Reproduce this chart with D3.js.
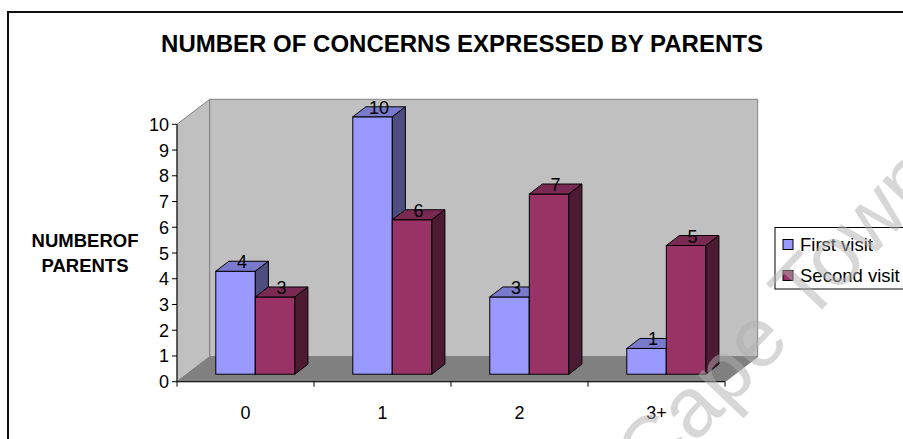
<!DOCTYPE html>
<html><head><meta charset="utf-8">
<script src="https://cdn.jsdelivr.net/npm/d3@7"></script>
<style>html,body{margin:0;padding:0;background:#fff;}svg{display:block;font-family:Arial,"Liberation Sans",sans-serif;}</style>
</head><body>
<svg id="c" width="903" height="439"></svg>
<script>
const categories = ["0", "1", "2", "3+"];
const seriesNames = ["First visit", "Second visit"];
const firstVisit = [4, 10, 3, 1];
const secondVisit = [3, 6, 7, 5];
const yTicks = [0,1,2,3,4,5,6,7,8,9,10];
const title = "NUMBER OF CONCERNS EXPRESSED BY PARENTS";
const yLabel = ["NUMBEROF", "PARENTS"];

const colors = [
  {front:"#9999ff", top:"#7a7acc", side:"#4d4d80"},
  {front:"#993366", top:"#7a2952", side:"#4d1a33"}
];
const series = [firstVisit, secondVisit];

const svg = d3.select("#c");
const X0 = 177, X1 = 725, Y0 = 381.7, Y1 = 124.3;
const DX = 32.7, DY = -25; // depth offset of the 3D box
const x = d3.scaleBand().domain(categories).range([X0, X1]).paddingInner(0.423).paddingOuter(0.2115);
const xs = d3.scaleBand().domain(seriesNames).range([0, x.bandwidth()]);
const y = d3.scaleLinear().domain([0, 10]).range([Y0, Y1]);

// outer border
svg.append("rect").attr("x",8).attr("y",12).attr("width",1000).attr("height",1000)
  .attr("fill","none").attr("stroke","#111").attr("stroke-width",2);

// title
svg.append("text").attr("x",462).attr("y",52).attr("text-anchor","middle")
  .attr("font-weight","bold").attr("font-size",24).text(title);

// y label
yLabel.forEach((t,i)=>svg.append("text").attr("x",85).attr("y",247+i*25)
  .attr("text-anchor","middle").attr("font-weight","bold").attr("font-size",18.5).text(t));

// walls
const g = svg.append("g");
g.append("path").attr("d",`M${X0},${y(10)}L${X0+DX},${y(10)+DY}L${X0+DX},${Y0+DY}L${X0},${Y0}Z`)
  .attr("fill","#c0c0c0").attr("stroke","#808080");
g.append("path").attr("d",`M${X0+DX},${y(10)+DY}L${X1+DX},${y(10)+DY}L${X1+DX},${Y0+DY}L${X0+DX},${Y0+DY}Z`)
  .attr("fill","#c0c0c0").attr("stroke","#808080");
g.append("path").attr("d",`M${X0},${Y0}L${X1},${Y0}L${X1+DX},${Y0+DY}L${X0+DX},${Y0+DY}Z`)
  .attr("fill","#808080").attr("stroke","#808080");

// y axis
g.append("line").attr("x1",X0).attr("x2",X0).attr("y1",y(10)).attr("y2",Y0).attr("stroke","#000");
yTicks.forEach(v=>{
  g.append("line").attr("x1",X0-5).attr("x2",X0).attr("y1",y(v)).attr("y2",y(v)).attr("stroke","#000");
  g.append("text").attr("x",X0-8).attr("y",y(v)+6.5).attr("text-anchor","end").attr("font-size",18).text(v);
});
// x axis
g.append("line").attr("x1",X0).attr("x2",X1).attr("y1",Y0).attr("y2",Y0).attr("stroke","#000");
const step = x.step();
d3.range(categories.length+1).forEach(i=>{
  const tx = X0 + i*step;
  g.append("line").attr("x1",tx).attr("x2",tx).attr("y1",Y0).attr("y2",Y0+5).attr("stroke","#000");
});
categories.forEach(c=>{
  g.append("text").attr("x",x(c)+x.bandwidth()/2).attr("y",Y0+37).attr("text-anchor","middle").attr("font-size",18).text(c);
});

// bars
const fOff = 0.3, fDep = 0.4;
const ox = DX*fOff, oy = DY*fOff, bdx = DX*fDep, bdy = DY*fDep;
categories.forEach((c,ci)=>{
  series.forEach((s,si)=>{
    const v = s[ci];
    const bx = x(c)+xs(seriesNames[si]) + ox, bw = xs.bandwidth();
    const by0 = y(0)+oy, by1 = y(v)+oy;
    const col = colors[si];
    g.append("rect").attr("x",bx).attr("y",by1).attr("width",bw).attr("height",by0-by1)
      .attr("fill",col.front).attr("stroke","#000");
    g.append("path").attr("d",`M${bx},${by1}L${bx+bdx},${by1+bdy}L${bx+bw+bdx},${by1+bdy}L${bx+bw},${by1}Z`)
      .attr("fill",col.top).attr("stroke","#000").attr("stroke-linejoin","round");
    g.append("path").attr("d",`M${bx+bw},${by1}L${bx+bw+bdx},${by1+bdy}L${bx+bw+bdx},${by0+bdy}L${bx+bw},${by0}Z`)
      .attr("fill",col.side).attr("stroke","#000").attr("stroke-linejoin","round");
  });
});
// value labels
categories.forEach((c,ci)=>{
  series.forEach((s,si)=>{
    const v = s[ci];
    const bx = x(c)+xs(seriesNames[si]) + ox, bw = xs.bandwidth();
    g.append("text").attr("x",bx+bw/2+bdx/2).attr("y",y(v)+oy-3).attr("text-anchor","middle")
      .attr("font-size",18).text(v);
  });
});

// legend
const lg = svg.append("g");
lg.append("rect").attr("x",775).attr("y",227.5).attr("width",200).attr("height",61.5)
  .attr("fill","#fff").attr("stroke","#000");
seriesNames.forEach((n,i)=>{
  lg.append("rect").attr("x",783).attr("y",239.5+i*31).attr("width",10).attr("height",10)
    .attr("fill",colors[i].front).attr("stroke","#000");
  lg.append("text").attr("x",800).attr("y",251+i*31).attr("font-size",18.5).text(n);
});

// watermark
svg.append("text").attr("transform","translate(652,489) rotate(-46.5)")
  .attr("font-size",85).attr("fill","#b0b0b0").attr("opacity",0.5).text("Cape Town");
</script>
</body></html>
